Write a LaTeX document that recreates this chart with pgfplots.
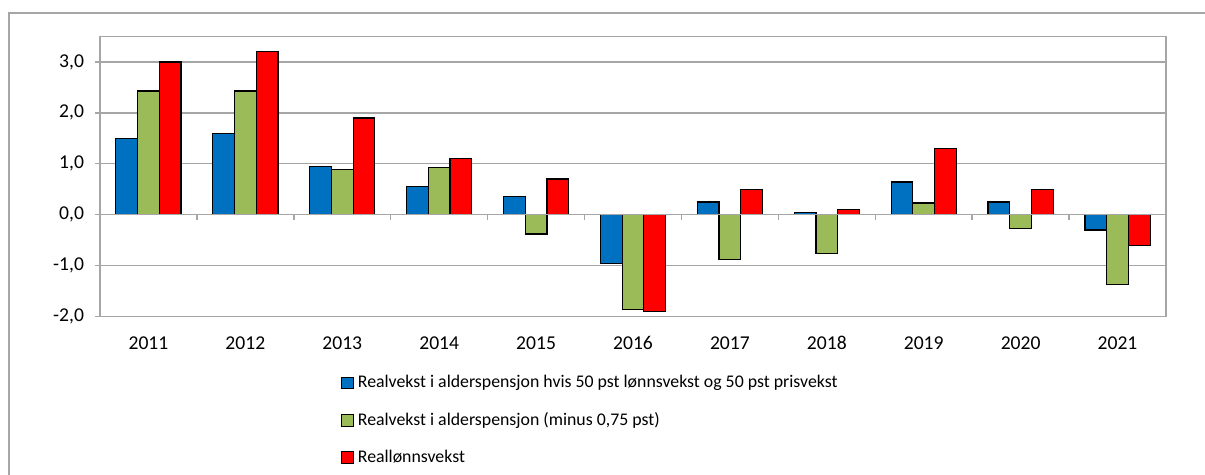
\documentclass[border=0pt]{standalone}
\usepackage{pgfplots}
\pgfplotsset{compat=1.18}
\usepackage{fontspec}
\setmainfont{Carlito}
\definecolor{cblue}{HTML}{0070C0}
\definecolor{cgreen}{HTML}{9BBB59}
\definecolor{cred}{HTML}{FF0000}
\definecolor{gridc}{HTML}{A6A6A6}
\begin{document}
\begin{tikzpicture}[x=1pt,y=1pt]
\useasboundingbox (0,0) rectangle (602.5,237.5);
\draw[gridc, line width=0.8pt] (4.5,0) -- (4.5,231) -- (602.5,231);
\begin{axis}[
  at={(50pt,79.25pt)}, anchor=south west,
  scale only axis, width=533pt, height=140pt,
  ybar=0pt, bar width=0.224,
  xmin=-0.5, xmax=10.5, ymin=-2, ymax=3.5,
  xtick={0,...,10},
  xticklabels={2011,2012,2013,2014,2015,2016,2017,2018,2019,2020,2021},
  ytick={-2,-1,0,1,2,3},
  yticklabels={{-2,0},{-1,0},{0,0},{1,0},{2,0},{3,0}},
  major tick length=2.5pt, tick align=outside,
  xtick style={draw=none},
  ytick style={gridc, line width=0.7pt},
  tick pos=left,
  ymajorgrids, grid style={gridc, line width=0.7pt},
  axis line style={gridc, line width=0.8pt},
  tick label style={font=\fontsize{9.8}{11}\selectfont, black},
  xticklabel style={yshift=-4pt},
  yticklabel style={xshift=-2pt},
  legend style={at={(0.226,-0.195)}, anchor=north west, draw=none, fill=none,
    font=\fontsize{8.9}{10}\selectfont, row sep=6.7pt, inner sep=0pt,
    /tikz/every even column/.append style={column sep=0pt}},
  legend cell align=left,
  legend image code/.code={\draw[#1, line width=0.5pt] (0pt,-2.9pt) rectangle (5.8pt,2.9pt);},
  clip=false,
]
\addplot[fill=cblue, draw=black, line width=0.6pt] coordinates {
 (0,1.5) (1,1.6) (2,0.95) (3,0.55) (4,0.35) (5,-0.96) (6,0.25) (7,0.05) (8,0.64) (9,0.25) (10,-0.30)};
\addlegendentry{Realvekst i alderspensjon hvis 50 pst lønnsvekst og 50 pst prisvekst}
\addplot[fill=cgreen, draw=black, line width=0.6pt] coordinates {
 (0,2.43) (1,2.43) (2,0.88) (3,0.93) (4,-0.38) (5,-1.87) (6,-0.88) (7,-0.77) (8,0.23) (9,-0.265) (10,-1.37)};
\addlegendentry{Realvekst i alderspensjon (minus 0,75 pst)}
\addplot[fill=cred, draw=black, line width=0.6pt] coordinates {
 (0,3.0) (1,3.2) (2,1.9) (3,1.1) (4,0.7) (5,-1.9) (6,0.5) (7,0.1) (8,1.3) (9,0.5) (10,-0.61)};
\addlegendentry{Reallønnsvekst}
\draw[gridc, line width=0.8pt] (axis cs:-0.5,0) -- (axis cs:10.5,0);
\pgfplotsinvokeforeach{0.5,1.5,2.5,3.5,4.5,5.5,6.5,7.5,8.5,9.5,10.5}{
  \draw[gridc, line width=0.7pt] (axis cs:#1,0) -- ([yshift=-2.5pt]axis cs:#1,0);
}
\end{axis}
\end{tikzpicture}
\end{document}
